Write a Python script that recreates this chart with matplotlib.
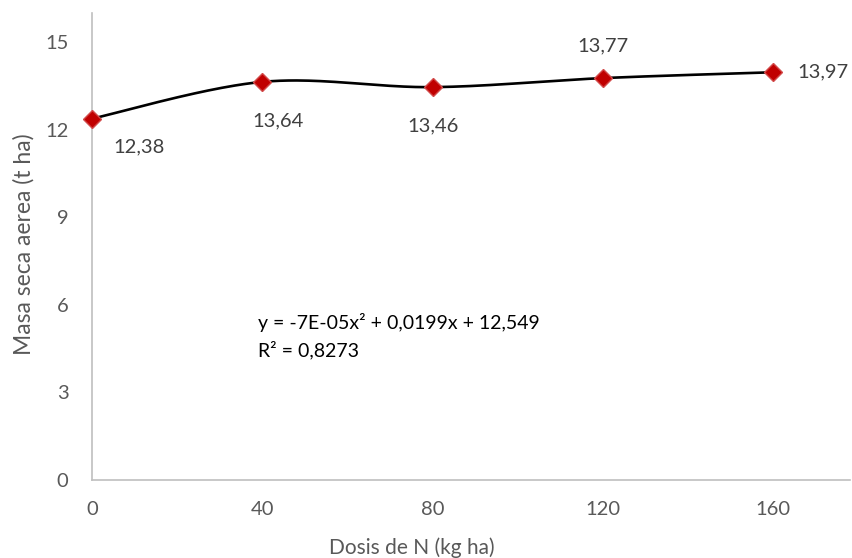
import numpy as np
import matplotlib
matplotlib.use("Agg")
import matplotlib.pyplot as plt

dosis = [0, 40, 80, 120, 160]
masa = [12.38, 13.64, 13.46, 13.77, 13.97]
labels = ["12,38", "13,64", "13,46", "13,77", "13,97"]
xticks = [0, 40, 80, 120, 160]
yticks = [0, 3, 6, 9, 12, 15]
equation = "y = -7E-05x² + 0,0199x + 12,549\nR² = 0,8273"

plt.rcParams['font.family'] = ['Lato', 'DejaVu Sans']

fig = plt.figure(figsize=(8.53, 5.58), dpi=100)
ax = fig.add_axes([92/853, 1-480/558, 758/853, 467/558])

# Excel-like smoothed line (cubic Bezier, Catmull-Rom control points)
x = np.array(dosis, float)
y = np.array(masa, float)
P = np.column_stack([x, y])
xs, ys = [], []
t = np.linspace(0, 1, 60)
n = len(P)
for i in range(n - 1):
    p0 = P[i]
    p3 = P[i + 1]
    prev = P[i - 1] if i > 0 else P[i]
    nxt = P[i + 2] if i + 2 < n else P[i + 1]
    c1 = p0 + (p3 - prev) / 6
    c2 = p3 - (nxt - p0) / 6
    b = ((1 - t) ** 3)[:, None] * p0 + (3 * (1 - t) ** 2 * t)[:, None] * c1 + \
        (3 * (1 - t) * t ** 2)[:, None] * c2 + (t ** 3)[:, None] * p3
    xs.extend(b[:, 0]); ys.extend(b[:, 1])
ax.plot(xs, ys, color='black', lw=1.9, zorder=2, solid_capstyle='round')
ax.plot(x, y, linestyle='none', marker='D', markersize=9,
        markerfacecolor='#C00000', markeredgecolor='#D24A4A', markeredgewidth=1.0,
        zorder=3, clip_on=False)

offsets = [(34, -20), (11, -28), (0, -28), (0, 23), (36, 0)]
for xi, yi, lab, off in zip(dosis, masa, labels, offsets):
    ax.annotate(lab, (xi, yi), xytext=off, textcoords='offset points',
                ha='center', va='center', fontsize=14.5, color='#404040')

ax.text(39, 4.92, equation, fontsize=14, color='black', va='center', ha='left',
        linespacing=1.55)

ax.set_xlim(0, 178)
ax.set_ylim(0, 16)
ax.set_xticks(xticks)
ax.set_yticks(yticks)
ax.tick_params(length=0, labelsize=14.5, labelcolor='#595959')
ax.tick_params(axis='y', pad=17)
ax.tick_params(axis='x', pad=15)
for s in ['top', 'right']:
    ax.spines[s].set_visible(False)
for s in ['left', 'bottom']:
    ax.spines[s].set_color('#BFBFBF')
    ax.spines[s].set_linewidth(1.2)

ax.set_xlabel("Dosis de N (kg ha)", fontsize=15, color='#595959')
ax.set_ylabel("Masa seca aerea (t ha)", fontsize=16.5, color='#595959')
ax.xaxis.set_label_coords((412-92)/758, -(537-480)/467)
ax.yaxis.set_label_coords(-(92-35)/758, 0.505)

fig.savefig("out.png", dpi=100)
